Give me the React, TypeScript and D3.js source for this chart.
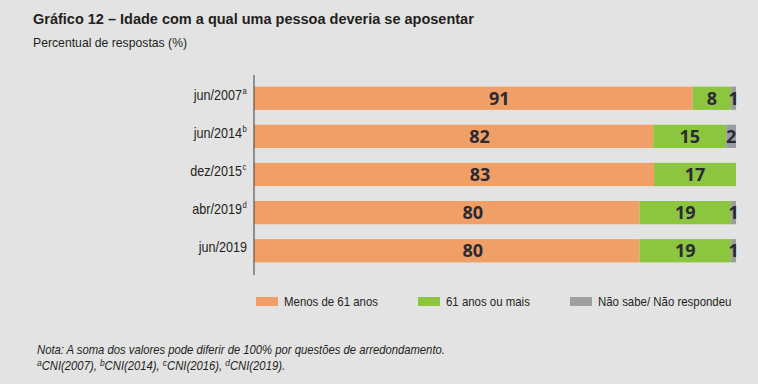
import React from 'react';
import * as d3 from 'd3';

const categories = ['jun/2007', 'jun/2014', 'dez/2015', 'abr/2019', 'jun/2019'];
const superscripts = ['a', 'b', 'c', 'd', ''];
const seriesNames = ['Menos de 61 anos', '61 anos ou mais', 'Não sabe/ Não respondeu'];
const menos61 = [91, 82, 83, 80, 80];
const mais61 = [8, 15, 17, 19, 19];
const naoSabe = [1, 2, 0, 1, 1];
const colors = ['#f0a066', '#8cc63f', '#9a9ba0'];

const W = 758;
const H = 384;
const FONT = "'Liberation Sans', Arial, sans-serif";

// horizontally squeezed text, to get near the condensed face of the original
function Narrow(props: { x: number; y: number; k: number; anchor?: string; size: number; bold?: boolean; italic?: boolean; children: any }) {
  const { x, y, k, anchor, size, bold, italic, children } = props;
  return (
    <text transform={`translate(${x},${y}) scale(${k},1)`} textAnchor={anchor || 'start'} fontSize={size}
      fontWeight={bold ? 'bold' : 'normal'} fontStyle={italic ? 'italic' : 'normal'} fill="#231f20">
      {children}
    </text>
  );
}

export default function App() {
  const rows = categories.map((c, i) => ({ cat: c, s0: menos61[i], s1: mais61[i], s2: naoSabe[i] }));
  const stack = d3.stack<any>().keys(['s0', 's1', 's2']).offset(d3.stackOffsetExpand);
  const layers = stack(rows);

  const x = d3.scaleLinear().domain([0, 1]).range([254, 736]);
  const y = d3.scaleBand().domain(categories).range([79, 270]).paddingInner(0.39).paddingOuter(0.2);

  const values = [menos61, mais61, naoSabe];
  const labelShift = [26, 0, 0];
  const legendX = [256, 418, 570];

  return (
    <svg width={W} height={H} style={{ position: 'absolute', left: 0, top: 0 }} fontFamily={FONT}>
      <rect width={W} height={H} fill="#e3e3e3" />
      <Narrow x={33} y={24} k={1} size={14.5} bold>
        Gráfico 12 – Idade com a qual uma pessoa deveria se aposentar
      </Narrow>
      <Narrow x={33} y={47} k={0.94} size={13}>Percentual de respostas (%)</Narrow>

      {layers.map((layer, li) => (
        <g key={li}>
          {layer.map((d, i) => {
            const w = x(d[1]) - x(d[0]);
            if (w <= 0) return null;
            return (
              <rect key={i} x={x(d[0])} y={y(categories[i])} width={w} height={y.bandwidth()} fill={colors[li]} />
            );
          })}
        </g>
      ))}

      {layers.map((layer, li) => (
        <g key={'l' + li}>
          {layer.map((d, i) => {
            const v = values[li][i];
            if (!v) return null;
            const cx = (x(d[0]) + x(d[1])) / 2 + labelShift[li];
            return (
              <text key={i} x={cx} y={(y(categories[i]) ?? 0) + y.bandwidth() / 2 + 6.5}
                textAnchor="middle" fontSize={18} fontWeight="bold" fill="#2b2a33"
                fontFamily="'Open Sans', sans-serif">
                {v}
              </text>
            );
          })}
        </g>
      ))}

      <line x1={254} x2={254} y1={75} y2={275} stroke="#3a3a3a" strokeWidth={1} />

      {categories.map((c, i) => (
        <Narrow key={c} x={superscripts[i] ? 242 : 247} y={(y(c) ?? 0) + y.bandwidth() / 2 + 1.5} k={0.9}
          anchor="end" size={14}>
          {c}
        </Narrow>
      ))}
      {categories.map((c, i) => superscripts[i] ? (
        <Narrow key={'s' + c} x={242.5} y={(y(c) ?? 0) + y.bandwidth() / 2 - 4.5} k={0.9} size={8.5}>
          {superscripts[i]}
        </Narrow>
      ) : null)}

      {seriesNames.map((n, i) => (
        <g key={n}>
          <rect x={legendX[i]} y={297} width={22} height={9} fill={i === 2 ? '#9e9e9e' : colors[i]} />
          <Narrow x={legendX[i] + 28} y={306} k={0.88} size={13}>{n}</Narrow>
        </g>
      ))}

      <Narrow x={37} y={354} k={0.94} size={12} italic>
        Nota: A soma dos valores pode diferir de 100% por questões de arredondamento.
      </Narrow>
      <Narrow x={37} y={370} k={0.94} size={12} italic>
        <tspan fontSize={9} dy={-4}>a</tspan><tspan dy={4}>CNI(2007), </tspan>
        <tspan fontSize={9} dy={-4}>b</tspan><tspan dy={4}>CNI(2014), </tspan>
        <tspan fontSize={9} dy={-4}>c</tspan><tspan dy={4}>CNI(2016), </tspan>
        <tspan fontSize={9} dy={-4}>d</tspan><tspan dy={4}>CNI(2019).</tspan>
      </Narrow>
    </svg>
  );
}
